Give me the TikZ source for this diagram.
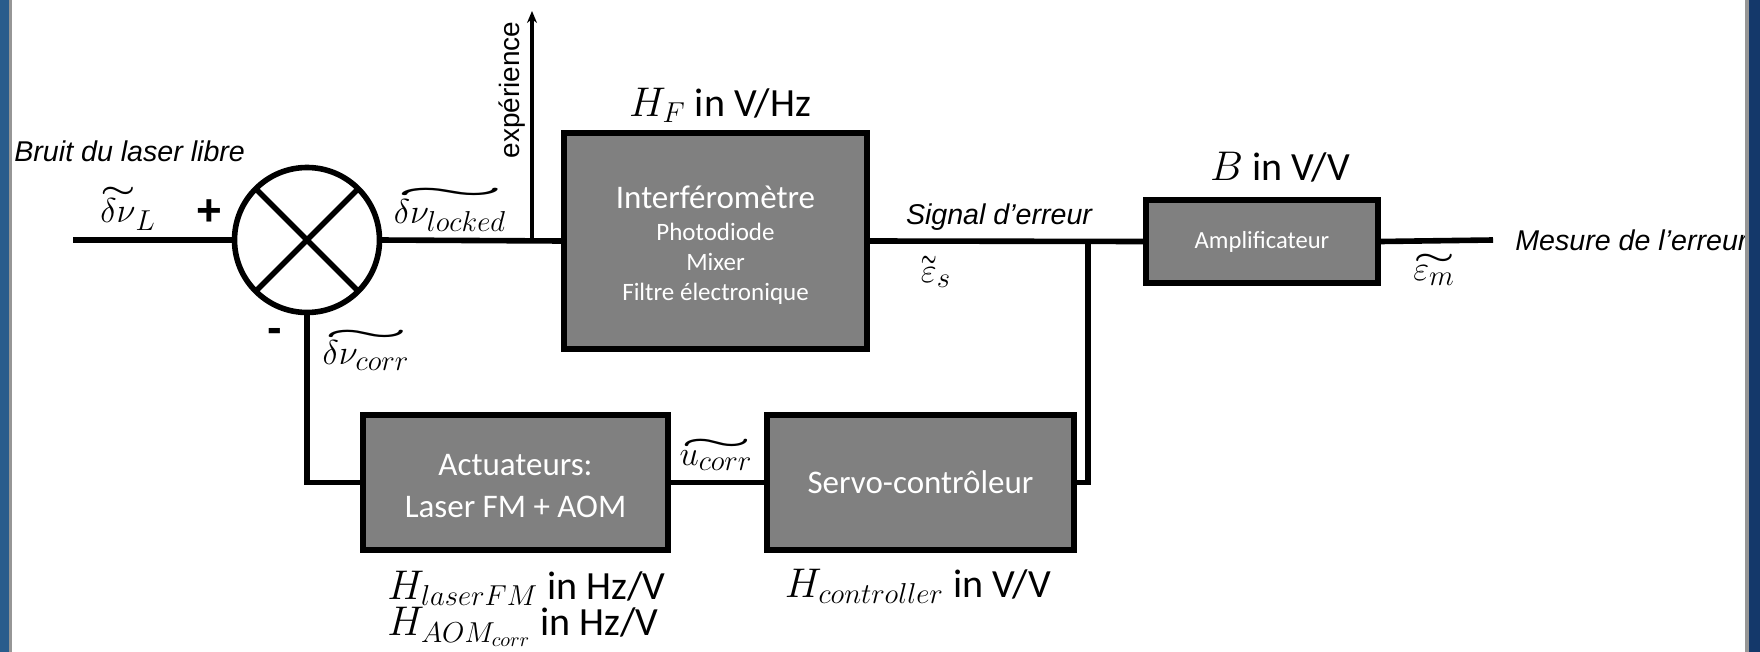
\documentclass[tikz,border=0pt]{standalone}
\usepackage{amsmath}
\usepackage{amsbsy}
\usepackage{graphicx}
\usepackage{fontspec}
\setmainfont{Carlito}
\setsansfont{Liberation Sans}
\usetikzlibrary{positioning,arrows.meta}

\definecolor{boxgray}{RGB}{128,128,128}
\definecolor{slideblueL}{RGB}{42,92,140}
\definecolor{slideblueR}{RGB}{20,56,106}
\definecolor{edgegray}{RGB}{150,150,150}

\DeclareMathSizes{18}{18}{15}{12}

\newlength{\tildewd}
\newcommand{\wtilde}[1]{\settowidth{\tildewd}{$#1$}%
  \mathord{\vbox{\offinterlineskip\halign{\hfil##\hfil\cr
    \resizebox{\tildewd}{0.6ex}{$\boldsymbol{\sim}$}\cr
    \noalign{\kern0.3pt}
    $#1$\cr}}}}

\begin{document}
\begin{tikzpicture}[x=0.5pt, y=-0.5pt, >=Stealth,
  wire/.style={line width=2.8pt},
  block/.style={draw, line width=2.8pt, fill=boxgray, text=white, inner sep=0pt, align=center},
  sumnode/.style={circle, draw, line width=2.8pt, minimum size=72.5pt, inner sep=0pt, outer sep=0pt},
  sig/.style={font=\sffamily\itshape\fontsize{14.3}{17}\selectfont, inner sep=0pt},
  var/.style={font=\fontsize{18}{21}\selectfont, inner sep=0pt},
  tf/.style={font=\fontsize{20}{24}\selectfont, inner sep=0pt},
  sign/.style={font=\sffamily\bfseries\fontsize{22}{26}\selectfont, inner sep=0pt}]

  \useasboundingbox (0,0) rectangle (1760,652);

  % Summing junction and blocks
  \node[sumnode] (sum) at (307,240) {};
  \node[block, minimum width=151.5pt, minimum height=108pt,
        font=\fontsize{12.5}{15}\selectfont] (interf) at (715.5,241)
        {\rule{0pt}{16pt}{\fontsize{16.5}{18}\selectfont Interféromètre}\\[1pt]
         Photodiode\\ Mixer\\ Filtre électronique};
  \node[block, minimum width=116pt, minimum height=41.5pt,
        font=\fontsize{12.3}{14}\selectfont] (amp) at (1262,241.5) {Amplificateur};
  \node[block, minimum width=153.5pt, minimum height=67.5pt,
        font=\fontsize{16.5}{21}\selectfont] (servo) at (920.5,482.5) {Servo-contrôleur};
  \node[block, minimum width=152.5pt, minimum height=67.5pt,
        font=\fontsize{16.5}{21}\selectfont] (act) at (515.5,482.5) {\rule{0pt}{14pt}Actuateurs:\\ Laser FM + AOM};

  % Free ends of the wires
  \coordinate (in) at (73,240);
  \coordinate (tap) at (532,240);
  \coordinate (exptop) at (532,11);
  \coordinate (split) at (1088,240);
  \coordinate (out) at (1493,240);

  % Wires
  \draw[wire] (sum.45) -- (sum.225) (sum.135) -- (sum.315);
  \draw[wire] (in) -- (sum.west);
  \draw[wire] (sum.east) -- (interf.west);
  \draw[-{Stealth[length=6pt,width=5pt]}, line width=2pt] (tap) -- (exptop);
  \draw[wire] (interf.east) -- (amp.west);
  \draw[wire] (amp.east) -- (out);
  \draw[wire] (split) |- (servo.east);
  \draw[wire] (servo.west) -- (act.east);
  \draw[wire] (act.west) -| (sum.south);

  % Signal names
  \node[sig, anchor=base west] (noise) at (14,162) {Bruit du laser libre};
  \node[var] (dnuL) at (128,209) {$\wtilde{\delta\nu}_L$};
  \node[sign] (plus) at (209,213) {+};
  \node[sign] (minus) at (275,335) {-};
  \node[var] (dnulock) at (450,210) {$\wtilde{\delta\nu_{locked}}$};
  \node[var] (dnucorr) at (366,350) {$\wtilde{\delta\nu_{corr}}$};
  \node[font=\sffamily\fontsize{14}{17}\selectfont, inner sep=0pt, rotate=90] (exp) at (512,90) {expérience};
  \node[sig] (errsig) at (999,217) {Signal d’erreur};
  \node[var] (epss) at (936,272) {$\wtilde{\varepsilon}_s$};
  \node[sig, anchor=west] (meas) at (1515,240) {Mesure de l’erreur};
  \node[var] (epsm) at (1434,270) {$\wtilde{\varepsilon_m}$};
  \node[var] (ucorr) at (716,455) {$\wtilde{u_{corr}}$};

  % Transfer functions
  \node[tf] (HF) at (720,105) {$H_F$ in V/Hz};
  \node[tf] (HB) at (1280,167) {$B$ in V/V};
  \node[tf, anchor=west] (Hlas) at (387,588) {$H_{laserFM}$ in Hz/V};
  \node[tf, anchor=west] (Haom) at (387,627) {$H_{AOM_{corr}}$ in Hz/V};
  \node[tf] (Hctl) at (918,586) {$H_{controller}$ in V/V};

  % Slide edges
  \fill[slideblueL] (0,0) rectangle (9,652);
  \fill[edgegray] (9,0) rectangle (12,652);
  \fill[edgegray] (1745,0) rectangle (1749,652);
  \fill[slideblueR] (1749,0) rectangle (1760,652);
\end{tikzpicture}
\end{document}
